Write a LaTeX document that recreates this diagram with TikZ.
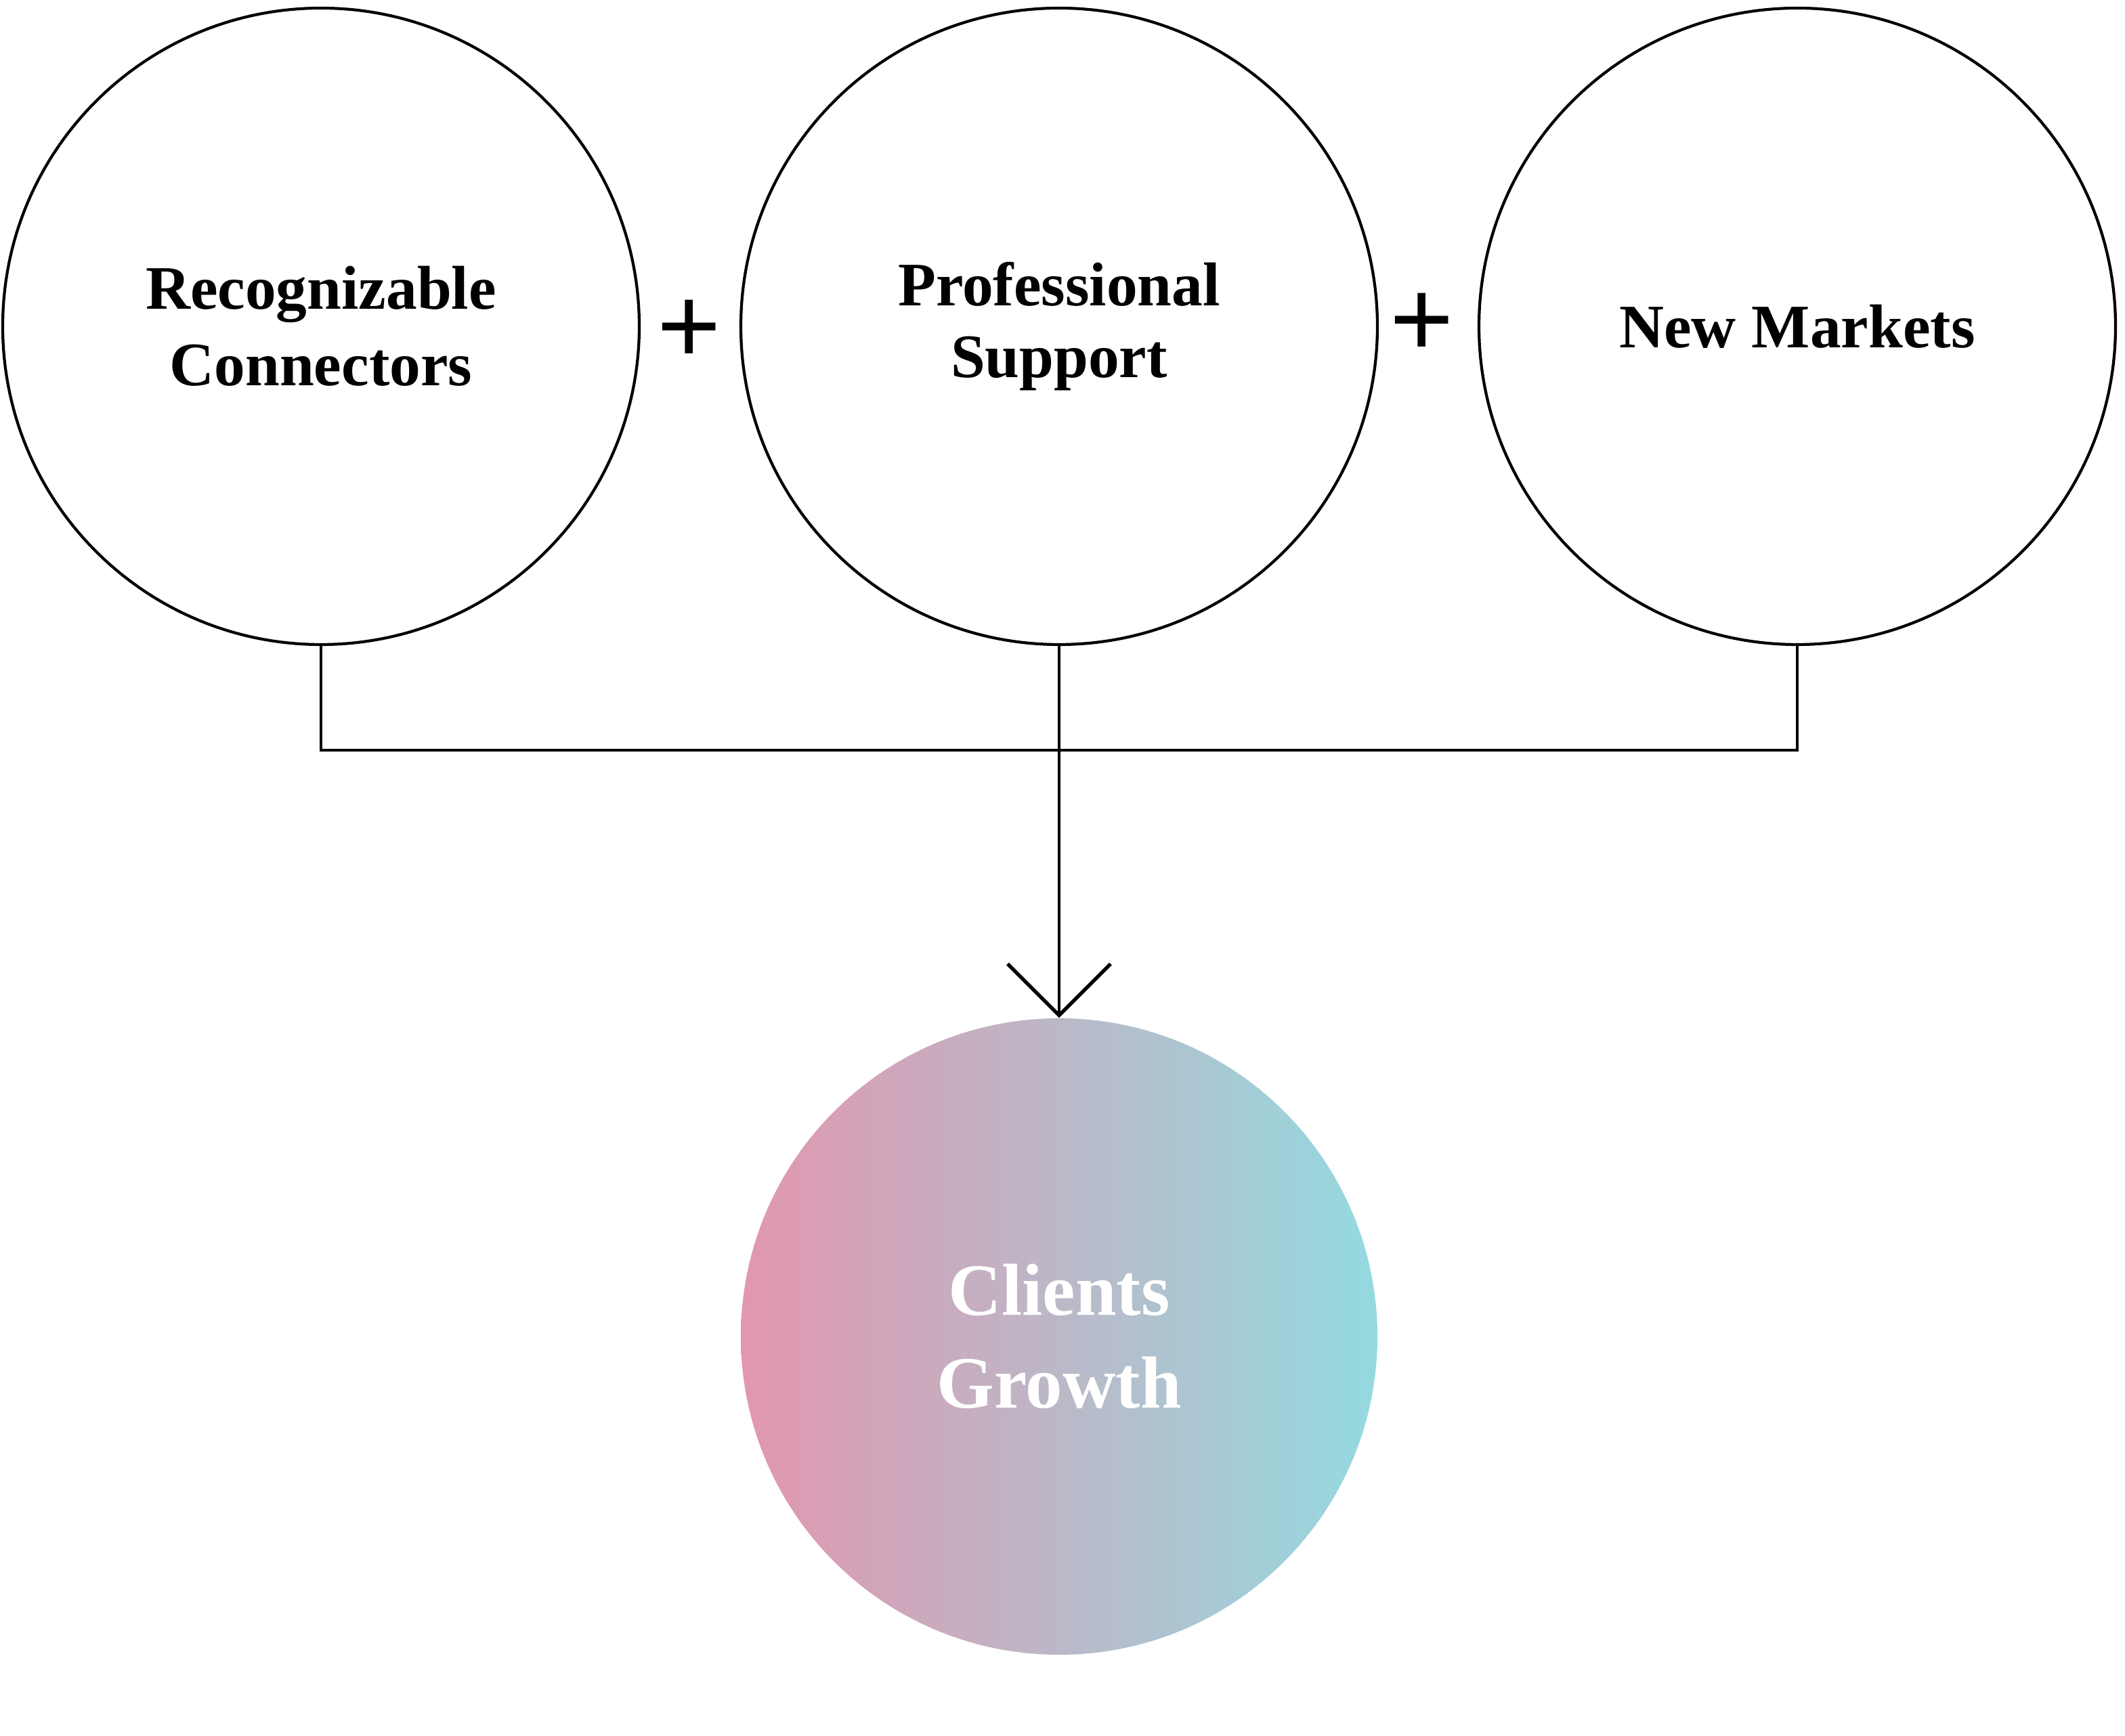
\documentclass[tikz,border=0pt]{standalone}
\usepackage{fontspec}
\setmainfont{Liberation Serif}
\newfontfamily\plusfont{Liberation Sans}
\usetikzlibrary{arrows.meta}
\definecolor{growthpink}{RGB}{226,150,175}
\definecolor{growthcyan}{RGB}{148,218,224}

\begin{document}
\begin{tikzpicture}[
        ring/.style={circle,draw=black,line width=1.2pt,minimum size=9.4cm,inner sep=0pt,
            align=center,font=\fontsize{26}{32}\selectfont\bfseries},
        goal/.style={circle,minimum size=9.4cm,inner sep=0pt,left color=growthpink,
            right color=growthcyan,text=white,align=center,
            font=\fontsize{31}{39}\selectfont\bfseries},
        plussign/.style={font=\plusfont\fontsize{46}{46}\selectfont}]
\useasboundingbox (0,0) rectangle (31.38,25.64);

\node[ring] (conn) at (4.74,20.82) {Recognizable\\Connectors};
\node[ring] (supp) at (15.64,20.82) {\raisebox{0.15cm}{\begin{tabular}{@{}c@{}}Professional\\[-2pt]Support\end{tabular}}};
\node[ring] (mark) at (26.54,20.82) {New Markets};
\node[plussign] (plusa) at (10.18,20.74) {+};
\node[plussign] (plusb) at (21.00,20.84) {+};

\node[goal] (growth) at (15.64,5.90) {Clients\\Growth};

\coordinate (join) at (15.64,14.56);
\draw[line width=1.2pt] (conn.south) -- (conn.south |- join) -- (mark.south |- join) -- (mark.south);
\draw[line width=1.2pt,-{Straight Barb[length=7.6mm,width=15.2mm,line width=1.5pt]}]
    (supp.south) -- (growth.north);
\end{tikzpicture}
\end{document}
